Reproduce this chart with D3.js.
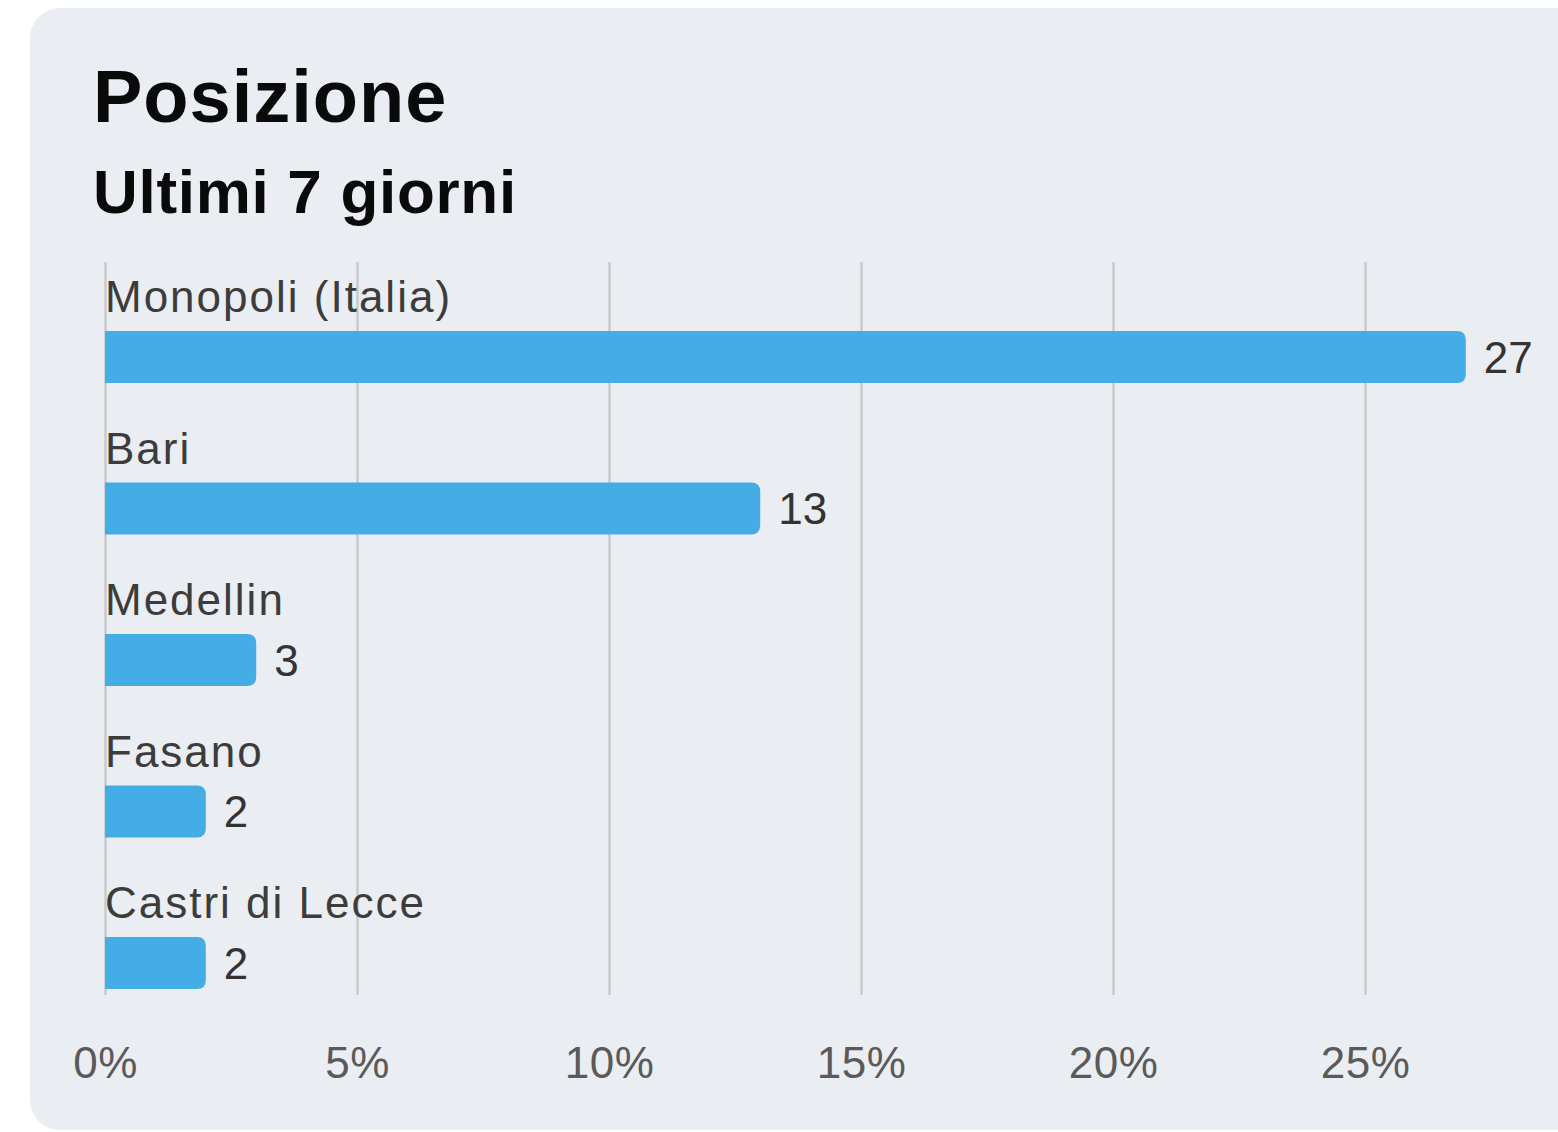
<!DOCTYPE html>
<html>
<head>
<meta charset="utf-8">
<script src="https://cdn.jsdelivr.net/npm/d3@7"></script>
<style>
  html, body { margin: 0; padding: 0; background: #ffffff; overflow: hidden; }
  svg { display: block; font-family: "Liberation Sans", Arial, Helvetica, sans-serif; }
</style>
</head>
<body>
<div id="chart"></div>
<script>
var categories = ["Monopoli (Italia)", "Bari", "Medellin", "Fasano", "Castri di Lecce"];
var counts = [27, 13, 3, 2, 2];          // number shown at the end of each bar
var shares = [27, 13, 3, 2, 2];          // bar length, percent of visits
var tickValues = [0, 5, 10, 15, 20, 25];

var W = 1558, H = 1132;
var plot = {left: 105, top: 262, gridBottom: 995, rowStep: 151.5};
var barColor = "#44ade6";

var data = categories.map(function(c, i) {
    return {name: c, count: counts[i], share: shares[i]};
});

var svg = d3.select("#chart").append("svg")
            .attr("width", W)
            .attr("height", H);

// panel behind everything
svg.append("rect")
   .attr("x", 30).attr("y", 8)
   .attr("width", 1600).attr("height", 1122)
   .attr("rx", 30)
   .attr("fill", "#eaedf2");

svg.append("text")
   .attr("x", 93).attr("y", 122)
   .attr("font-size", 74)
   .attr("font-weight", "bold")
   .attr("letter-spacing", 1)
   .attr("fill", "#0a0a0a")
   .text("Posizione");

svg.append("text")
   .attr("x", 93).attr("y", 213)
   .attr("font-size", 62)
   .attr("font-weight", "bold")
   .attr("letter-spacing", 0.7)
   .attr("fill", "#0a0a0a")
   .text("Ultimi 7 giorni");

var xScale = d3.scaleLinear()
               .domain([0, 25])
               .range([plot.left, plot.left + 252 * 5]);

var yScale = d3.scaleBand()
               .domain(categories)
               .range([plot.top, plot.top + plot.rowStep * categories.length])
               .paddingInner(0);

// gridlines + tick labels
var axis = d3.axisBottom(xScale)
             .tickValues(tickValues)
             .tickFormat(function(d) { return d + "%"; })
             .tickSize(-(plot.gridBottom - plot.top))
             .tickPadding(52);

var gAxis = svg.append("g")
               .attr("transform", "translate(0," + plot.gridBottom + ")")
               .call(axis);

gAxis.select(".domain").remove();
gAxis.selectAll(".tick line")
     .attr("stroke", "#c9cacd")
     .attr("stroke-width", 2.5);
gAxis.selectAll(".tick text")
     .attr("fill", "#5a5a5a")
     .attr("font-size", 44)
     .attr("letter-spacing", 0.5)
     .attr("font-family", "Liberation Sans, Arial, sans-serif");

var rows = svg.append("g")
              .selectAll("g.row")
              .data(data)
              .enter()
              .append("g")
              .attr("class", "row");

var barTop = 69, barH = 52, r = 9;

// bars, square on the left and rounded on the right
rows.append("path")
    .attr("fill", barColor)
    .attr("d", function(d) {
        var x0 = xScale(0), x1 = xScale(d.share);
        var y0 = yScale(d.name) + barTop, y1 = y0 + barH;
        return "M" + x0 + "," + y0 +
               "H" + (x1 - r) +
               "Q" + x1 + "," + y0 + " " + x1 + "," + (y0 + r) +
               "V" + (y1 - r) +
               "Q" + x1 + "," + y1 + " " + (x1 - r) + "," + y1 +
               "H" + x0 + "Z";
    });

rows.append("text")
    .attr("x", xScale(0))
    .attr("y", function(d) { return yScale(d.name) + 50; })
    .attr("font-size", 44)
    .attr("letter-spacing", 2)
    .attr("fill", "#3c3c3c")
    .text(function(d) { return d.name; });

rows.append("text")
    .attr("x", function(d) { return xScale(d.share) + 18; })
    .attr("y", function(d) { return yScale(d.name) + barTop + barH / 2; })
    .attr("dy", "0.36em")
    .attr("font-size", 44)
    .attr("fill", "#333")
    .text(function(d) { return d.count; });
</script>
</body>
</html>
